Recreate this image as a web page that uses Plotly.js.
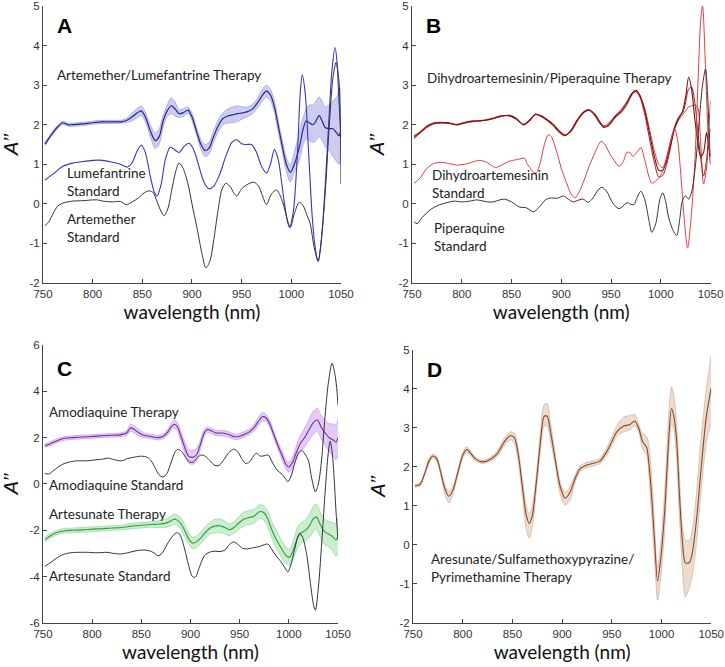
<!DOCTYPE html>
<html>
<head>
<meta charset="utf-8">
<script src="https://cdn.plot.ly/plotly-3.0.1.min.js"></script>
<style>html,body{margin:0;padding:0;background:#fff;}#chart{width:725px;height:667px;}</style>
</head>
<body>
<div id="chart"></div>
<script>
// ---------------- Panel A ----------------
const wlA = [752,760,765,770,775,780,790,800,810,820,830,835,840,845,849,853,858,863,867,871,875,879,883,887,891,896,900,905,909,913,917,921,926,931,936,941,946,951,956,961,966,971,975,979,983,987,991,995,999,1003,1008,1012,1015,1018,1022,1025,1028,1031,1034,1038,1042,1046,1048,1050];
const alTherapyMean = [1.51,1.80,1.95,2.05,2.00,2.00,2.02,2.05,2.07,2.07,2.08,2.12,2.20,2.30,2.35,2.20,1.85,1.60,1.70,2.10,2.35,2.48,2.40,2.28,2.30,2.37,2.20,1.80,1.50,1.35,1.40,1.65,1.95,2.15,2.22,2.25,2.28,2.30,2.33,2.40,2.55,2.75,2.85,2.75,2.45,1.95,1.45,1.00,0.80,1.00,1.42,1.90,2.10,2.05,2.00,2.10,2.23,2.10,1.93,1.90,1.90,1.78,1.72,1.90];
const alTherapyHi = [1.55,1.84,1.99,2.09,2.04,2.04,2.06,2.09,2.11,2.11,2.12,2.18,2.30,2.42,2.47,2.32,2.00,1.80,1.90,2.25,2.50,2.68,2.58,2.38,2.40,2.45,2.30,1.90,1.62,1.50,1.55,1.80,2.10,2.30,2.40,2.45,2.48,2.45,2.45,2.52,2.67,2.90,3.00,2.90,2.60,2.10,1.60,1.18,0.98,1.30,1.80,2.20,2.40,2.50,2.50,2.60,2.70,2.60,2.45,2.50,2.60,2.70,2.90,2.90];
const alTherapyLo = [1.47,1.76,1.91,2.01,1.96,1.96,1.98,2.01,2.03,2.03,2.04,2.06,2.10,2.18,2.23,2.08,1.70,1.40,1.50,1.95,2.20,2.28,2.22,2.18,2.20,2.29,2.10,1.70,1.38,1.20,1.25,1.50,1.80,2.00,2.04,2.05,2.08,2.15,2.21,2.28,2.43,2.60,2.70,2.60,2.30,1.80,1.30,0.82,0.55,0.80,1.10,1.50,1.65,1.60,1.55,1.60,1.70,1.60,1.45,1.35,1.20,1.05,1.00,1.50];

const wlLumStd = [752,760,770,780,790,800,810,820,828,835,840,845,849,853,858,862,865,869,873,878,882,887,892,897,902,907,912,917,922,928,934,940,945,950,955,960,965,970,975,979,983,987,991,995,998,1002,1006,1009,1011,1014,1017,1021,1024,1027,1030,1034,1038,1041,1044,1046,1048,1050];
const lumStd = [0.60,0.75,0.95,1.03,1.07,1.10,1.10,1.05,1.00,0.93,1.05,1.35,1.48,1.30,0.70,0.30,0.20,0.50,1.10,1.43,1.38,1.30,1.45,1.53,1.35,0.95,0.55,0.38,0.45,0.75,1.20,1.55,1.62,1.52,1.50,1.50,1.30,0.95,0.78,1.00,1.37,1.10,0.40,-0.30,-0.59,-0.20,1.20,2.80,3.26,2.80,1.50,-0.30,-1.10,-1.45,-1.00,0.40,2.20,3.40,3.95,3.60,2.60,1.70];

const wlArtStd = [752,756,760,765,770,780,790,800,805,810,820,828,834,840,846,852,857,861,865,869,872,876,880,884,887,891,896,900,905,910,914,918,922,926,930,934,938,942,945,950,955,962,967,971,975,980,985,989,993,996,999,1003,1008,1012,1015,1019,1023,1027,1031,1035,1038,1042,1045,1048,1049.5,1050];
const artStd = [-0.55,-0.45,-0.25,-0.05,0.02,0.07,0.08,0.10,0.10,0.07,0.05,0.06,-0.02,0.05,0.15,0.28,0.33,0.28,0.05,-0.20,-0.30,-0.10,0.40,0.85,1.03,0.90,0.50,0.00,-0.60,-1.25,-1.62,-1.45,-0.90,-0.20,0.35,0.52,0.45,0.28,0.20,0.38,0.48,0.55,0.45,0.20,-0.02,0.25,0.35,0.20,-0.10,-0.40,-0.60,-0.25,0.04,-0.05,-0.24,-0.50,-1.10,-1.45,-0.70,0.60,1.90,3.20,3.57,3.10,1.80,0.50];

// ---------------- Panel B ----------------
const wlB = [752,758,765,772,780,787,795,803,810,818,825,833,840,848,855,862,868,874,880,886,892,898,904,910,916,922,928,934,939,943,948,954,960,966,971,975,979,984,989,994,998,1002,1006,1010,1014,1018,1022,1025,1028,1031,1034,1037,1040,1043,1046,1048,1050];
const dpTherapy1 = [1.68,1.80,1.95,2.03,2.05,2.05,2.00,2.05,2.08,2.10,2.12,2.17,2.22,2.23,2.15,2.00,2.10,2.27,2.22,2.12,2.00,1.83,1.73,1.85,2.10,2.30,2.38,2.25,2.05,1.93,2.00,2.20,2.33,2.55,2.78,2.87,2.75,2.35,1.75,1.15,0.85,0.85,1.10,1.50,1.90,2.15,2.35,2.70,3.20,2.90,2.20,1.60,1.20,1.30,1.80,1.50,1.00];
const dpTherapy2 = [1.72,1.82,1.97,2.05,2.06,2.03,2.01,2.06,2.10,2.09,2.13,2.18,2.23,2.22,2.13,2.01,2.12,2.26,2.20,2.10,1.97,1.80,1.72,1.88,2.13,2.32,2.36,2.22,2.02,1.97,2.05,2.22,2.38,2.58,2.80,2.85,2.70,2.25,1.60,1.00,0.68,0.72,1.00,1.45,1.95,2.20,2.30,2.55,2.90,2.95,2.60,1.90,1.20,0.70,1.10,1.60,1.90];
const dpTherapy3 = [1.65,1.78,1.93,2.02,2.04,2.04,1.99,2.04,2.07,2.11,2.11,2.16,2.21,2.24,2.16,1.99,2.09,2.25,2.23,2.13,2.02,1.85,1.75,1.83,2.08,2.28,2.37,2.27,2.08,1.95,1.98,2.17,2.30,2.50,2.75,2.83,2.72,2.40,1.85,1.30,1.00,0.92,1.15,1.60,1.95,2.12,2.25,2.35,2.45,2.48,2.50,2.45,1.60,0.50,0.90,1.80,2.60];

const wlDhaStd = [752,758,765,772,780,787,795,803,810,818,825,830,834,840,848,856,863,866,869,872,875,879,883,887,890,895,900,905,910,914,918,923,928,934,940,944,948,953,958,962,966,969,972,976,980,984,988,991,996,1001,1006,1010,1014,1017,1020,1024,1027,1030,1034,1038,1040,1042,1045,1048,1050];
const dhaStd = [0.52,0.65,0.90,1.02,1.05,1.02,0.98,1.00,1.05,1.10,1.05,0.97,0.92,0.98,1.08,1.12,1.15,1.00,0.90,0.80,0.78,1.05,1.50,1.75,1.70,1.35,0.90,0.55,0.25,0.15,0.30,0.60,0.95,1.30,1.58,1.50,1.30,1.10,0.95,1.05,1.30,1.30,1.20,1.30,1.42,1.10,0.70,0.52,0.60,0.77,1.20,1.60,1.90,1.60,0.80,-0.50,-1.12,-0.50,0.92,3.44,4.60,5.00,3.44,1.60,1.20];

const wlPipStd = [752,755,760,765,770,778,785,792,800,808,815,820,826,832,838,843,850,858,865,872,878,884,890,896,902,907,912,918,922,927,932,937,941,946,950,954,958,962,966,969,973,976,980,984,988,991,995,999,1002,1005,1008,1012,1016,1019,1022,1025,1028,1031,1035,1039,1042,1045,1047,1049,1050];
const pipStd = [-0.45,-0.50,-0.35,-0.22,-0.12,-0.02,0.03,0.07,0.05,0.07,0.10,0.08,0.05,0.05,0.10,0.12,0.05,-0.08,-0.10,-0.20,-0.08,0.10,0.15,0.14,0.20,0.12,0.05,0.10,0.12,0.04,0.15,0.35,0.42,0.30,0.10,-0.05,-0.12,-0.06,0.03,0.00,-0.02,0.15,0.32,0.10,-0.40,-0.72,-0.50,0.10,0.28,0.05,-0.35,-0.65,-0.80,-0.40,0.10,0.20,0.12,0.30,1.00,2.20,3.00,3.41,2.80,1.60,1.20];

// ---------------- Panel C ----------------
const wlC1 = [752,758,765,772,780,790,800,810,820,828,835,839,842,846,850,855,860,866,872,877,881,884,887,890,894,898,902,906,910,914,917,921,926,932,938,944,949,955,960,965,969,973,977,981,985,989,993,997,1000,1004,1008,1012,1016,1020,1025,1029,1033,1037,1041,1045,1048,1050];
const amoTherapyMean = [1.65,1.75,1.88,1.97,2.00,2.03,2.05,2.08,2.10,2.12,2.20,2.42,2.38,2.25,2.15,2.08,2.05,2.00,2.05,2.25,2.50,2.58,2.45,2.10,1.60,1.20,1.15,1.25,1.70,2.20,2.35,2.30,2.20,2.20,2.15,2.05,2.05,2.15,2.25,2.45,2.70,2.90,2.85,2.55,2.10,1.65,1.25,0.85,0.73,0.95,1.40,1.77,2.00,2.30,2.65,2.76,2.45,2.20,2.00,1.90,1.80,2.00];
const amoTherapyHi = [1.73,1.83,1.96,2.05,2.08,2.11,2.13,2.16,2.18,2.20,2.30,2.57,2.53,2.40,2.27,2.18,2.15,2.10,2.15,2.37,2.65,2.76,2.63,2.30,1.85,1.50,1.45,1.53,1.90,2.35,2.47,2.42,2.32,2.32,2.27,2.17,2.17,2.27,2.37,2.60,2.88,3.08,3.00,2.70,2.25,1.80,1.43,1.05,0.95,1.20,1.70,2.12,2.40,2.75,3.15,3.26,2.95,2.75,2.60,2.60,2.55,2.80];
const amoTherapyLo = [1.57,1.67,1.80,1.89,1.92,1.95,1.97,2.00,2.02,2.04,2.10,2.27,2.23,2.10,2.03,1.98,1.95,1.90,1.95,2.13,2.35,2.40,2.27,1.90,1.35,0.90,0.85,0.97,1.50,2.05,2.23,2.18,2.08,2.08,2.03,1.93,1.93,2.03,2.13,2.30,2.52,2.72,2.70,2.40,1.95,1.50,1.07,0.65,0.51,0.70,1.10,1.42,1.60,1.85,2.15,2.26,1.95,1.65,1.40,1.20,1.05,1.20];

const wlAmoStd = [752,756,760,765,770,777,785,795,805,812,816,822,830,836,842,850,856,860,864,868,872,876,880,884,887,891,895,899,903,907,911,915,920,925,929,934,939,944,948,952,956,960,964,967,971,975,979,983,988,993,997,999,1002,1006,1010,1013,1017,1020,1023,1027,1030,1033,1036,1040,1044,1047,1049,1050];
const amoStd = [0.45,0.43,0.55,0.72,0.85,0.95,1.00,1.00,1.05,1.08,1.12,1.05,1.00,1.10,1.15,1.20,1.15,1.00,0.70,0.40,0.30,0.45,0.90,1.35,1.50,1.40,1.15,0.95,0.95,1.15,1.25,1.20,1.00,0.80,0.80,1.05,1.35,1.50,1.40,1.10,0.88,0.95,1.20,1.33,1.20,1.22,1.25,0.95,0.60,0.42,0.20,0.10,0.30,0.90,1.35,1.45,1.25,1.00,0.30,-0.34,0.00,0.90,2.50,4.30,5.22,4.70,4.00,3.40];

const wlC2 = [752,758,765,772,780,790,800,810,820,830,840,850,860,868,874,879,883,886,890,894,898,902,906,910,915,920,925,930,935,940,945,950,955,960,965,970,974,978,982,986,990,994,998,1001,1005,1009,1013,1017,1021,1025,1028,1032,1036,1040,1044,1048,1050];
const artsTherapyMean = [-2.40,-2.22,-2.08,-2.02,-2.00,-1.98,-1.95,-1.93,-1.90,-1.88,-1.82,-1.78,-1.75,-1.73,-1.70,-1.62,-1.52,-1.55,-1.70,-2.00,-2.35,-2.55,-2.50,-2.35,-2.10,-1.90,-1.82,-1.80,-1.88,-1.98,-1.85,-1.65,-1.50,-1.45,-1.38,-1.20,-1.22,-1.45,-1.90,-2.30,-2.60,-2.90,-3.12,-3.15,-2.80,-2.30,-2.10,-2.00,-1.80,-1.50,-1.42,-1.75,-2.05,-2.15,-2.25,-2.42,-2.20];
const artsTherapyHi = [-2.30,-2.12,-1.98,-1.92,-1.90,-1.88,-1.85,-1.83,-1.80,-1.78,-1.70,-1.66,-1.63,-1.58,-1.52,-1.42,-1.30,-1.33,-1.45,-1.75,-2.10,-2.30,-2.25,-2.10,-1.85,-1.65,-1.52,-1.50,-1.60,-1.73,-1.60,-1.37,-1.20,-1.15,-1.08,-0.90,-0.92,-1.13,-1.55,-1.92,-2.22,-2.52,-2.77,-2.80,-2.40,-1.85,-1.65,-1.55,-1.30,-0.95,-0.87,-1.20,-1.50,-1.60,-1.65,-1.72,-1.45];
const artsTherapyLo = [-2.50,-2.32,-2.18,-2.12,-2.10,-2.08,-2.05,-2.03,-2.00,-1.98,-1.94,-1.90,-1.87,-1.88,-1.88,-1.82,-1.74,-1.77,-1.95,-2.25,-2.60,-2.80,-2.75,-2.60,-2.35,-2.15,-2.12,-2.10,-2.16,-2.23,-2.10,-1.93,-1.80,-1.75,-1.68,-1.50,-1.52,-1.77,-2.25,-2.68,-2.98,-3.28,-3.47,-3.50,-3.20,-2.75,-2.55,-2.45,-2.30,-2.05,-1.97,-2.30,-2.60,-2.70,-2.85,-3.12,-2.95];

const wlArtsStd = [752,758,764,770,778,786,795,805,815,822,830,838,845,852,858,863,867,871,875,880,884,887,890,894,898,902,905,909,914,919,924,930,935,940,944,948,953,958,964,970,975,979,983,987,991,995,999,1002,1006,1009,1011,1014,1018,1022,1025,1027,1030,1034,1037,1040,1042,1044,1046,1048,1050];
const artsStd = [-3.55,-3.38,-3.20,-3.05,-2.97,-2.95,-2.95,-2.97,-2.95,-3.00,-3.02,-2.95,-2.88,-2.85,-2.88,-2.98,-3.10,-3.00,-2.70,-2.35,-2.15,-2.10,-2.25,-2.80,-3.50,-4.00,-4.02,-3.60,-3.10,-2.95,-2.90,-2.92,-2.85,-2.60,-2.50,-2.60,-2.78,-2.80,-2.75,-2.70,-2.62,-2.60,-2.85,-3.10,-3.30,-3.55,-3.80,-3.50,-2.80,-2.30,-2.12,-2.30,-3.00,-4.30,-5.20,-5.45,-4.50,-2.20,-0.30,1.30,1.85,1.40,0.30,-1.20,-2.40];

// ---------------- Panel D ----------------
const wlD = [752,757,762,766,770,774,778,782,786,790,795,800,804,808,813,820,828,835,842,848,852,856,860,864,867,870,874,878,882,885,888,893,898,903,908,913,918,925,932,938,945,950,955,962,968,973,977,981,985,988,991,993,996,999,1003,1007,1010,1012,1015,1018,1021,1024,1028,1031,1035,1040,1045,1050];
const aspTherapyMean = [1.52,1.55,1.85,2.15,2.28,2.20,1.85,1.45,1.25,1.40,1.85,2.30,2.45,2.35,2.20,2.13,2.20,2.35,2.65,2.80,2.75,2.30,1.50,0.75,0.55,0.75,1.60,2.60,3.30,3.30,2.95,2.20,1.50,1.20,1.35,1.70,1.95,2.05,2.10,2.15,2.40,2.65,2.90,3.05,3.08,3.18,3.00,2.65,2.50,1.90,0.90,0.10,-0.92,-0.40,0.80,2.60,3.50,3.35,2.75,1.30,0.10,-0.46,-0.45,-0.20,0.60,2.00,3.28,4.03];
const aspTherapyHi = [1.56,1.59,1.90,2.22,2.33,2.26,1.93,1.55,1.38,1.50,1.92,2.38,2.52,2.41,2.25,2.17,2.25,2.42,2.75,2.90,2.87,2.45,1.70,1.00,0.80,1.00,1.80,2.85,3.60,3.62,3.20,2.35,1.62,1.35,1.50,1.80,2.03,2.12,2.17,2.22,2.50,2.78,3.05,3.28,3.32,3.35,3.10,2.85,2.78,2.40,1.40,0.50,-0.60,0.00,1.30,3.20,4.05,3.90,3.20,1.80,0.50,0.13,0.12,0.40,1.30,2.80,4.00,4.87];
const aspTherapyLo = [1.48,1.51,1.80,2.08,2.23,2.14,1.77,1.30,1.08,1.28,1.78,2.22,2.38,2.29,2.15,2.09,2.15,2.28,2.55,2.70,2.60,2.10,1.25,0.40,0.17,0.45,1.35,2.35,3.05,3.05,2.70,2.05,1.30,1.02,1.15,1.60,1.87,1.98,2.03,2.08,2.30,2.55,2.78,2.90,2.95,3.05,2.90,2.45,2.30,1.50,0.40,-0.40,-1.42,-0.90,0.30,2.10,3.10,3.00,2.30,0.70,-0.60,-1.33,-1.10,-0.80,0.00,1.40,2.60,3.15];

// Axis ticks
const xTicks = [750,800,850,900,950,1000,1050];
const yTicksABD = [-2,-1,0,1,2,3,4,5];
const yTicksC = [-6,-4,-2,0,2,4,6];

// ---------------- Build traces ----------------
function line(x, y, color, width, xa, ya) {
  return {x: x, y: y, type: 'scatter', mode: 'lines', xaxis: xa, yaxis: ya,
    line: {color: color, width: width, shape: 'spline', smoothing: 0.8}, hoverinfo: 'skip', showlegend: false};
}
function band(x, lo, hi, fill, edge, xa, ya) {
  return [
    {x: x, y: lo, type: 'scatter', mode: 'lines', xaxis: xa, yaxis: ya,
      line: {color: edge, width: 0.6, shape: 'spline', smoothing: 0.8}, hoverinfo: 'skip', showlegend: false},
    {x: x, y: hi, type: 'scatter', mode: 'lines', xaxis: xa, yaxis: ya, fill: 'tonexty', fillcolor: fill,
      line: {color: edge, width: 0.6, shape: 'spline', smoothing: 0.8}, hoverinfo: 'skip', showlegend: false}
  ];
}

const traces = [];
// A
traces.push(...band(wlA, alTherapyLo, alTherapyHi, 'rgba(120,120,215,0.38)', 'rgba(110,110,210,0.7)', 'x', 'y'));
traces.push(line(wlA, alTherapyMean, '#25258f', 1.2, 'x', 'y'));
traces.push(line(wlLumStd, lumStd, '#3535cc', 1.1, 'x', 'y'));
traces.push(line(wlArtStd, artStd, '#333333', 1.0, 'x', 'y'));
// B
traces.push(line(wlB, dpTherapy3, '#c64646', 1.0, 'x2', 'y2'));
traces.push(line(wlB, dpTherapy2, '#a81c1c', 1.0, 'x2', 'y2'));
traces.push(line(wlB, dpTherapy1, '#7e0c0c', 1.1, 'x2', 'y2'));
traces.push(line(wlDhaStd, dhaStd, '#e63c3c', 1.0, 'x2', 'y2'));
traces.push(line(wlPipStd, pipStd, '#333333', 1.0, 'x2', 'y2'));
// C
traces.push(...band(wlC1, amoTherapyLo, amoTherapyHi, 'rgba(190,130,235,0.42)', 'rgba(180,120,230,0.8)', 'x3', 'y3'));
traces.push(line(wlC1, amoTherapyMean, '#6d2c9c', 1.1, 'x3', 'y3'));
traces.push(...band(wlC2, artsTherapyLo, artsTherapyHi, 'rgba(130,215,140,0.42)', 'rgba(110,200,120,0.8)', 'x3', 'y3'));
traces.push(line(wlC2, artsTherapyMean, '#2f9e3c', 1.1, 'x3', 'y3'));
traces.push(line(wlAmoStd, amoStd, '#333333', 1.0, 'x3', 'y3'));
traces.push(line(wlArtsStd, artsStd, '#333333', 1.0, 'x3', 'y3'));
// D
traces.push(...band(wlD, aspTherapyLo, aspTherapyHi, 'rgba(215,185,160,0.5)', 'rgba(190,150,120,0.75)', 'x4', 'y4'));
traces.push(line(wlD, aspTherapyMean, '#8c4525', 1.1, 'x4', 'y4'));

// ---------------- Layout ----------------
const tickFont = {family: 'Liberation Sans, Arial, sans-serif', size: 11.5, color: '#333'};
function xAxis(domain, anchor) {
  return {domain: domain, anchor: anchor, range: [750, 1050], tickvals: xTicks, ticktext: xTicks.map(String),
    ticks: 'inside', ticklen: 4, tickcolor: '#444', showline: true, linecolor: '#444', linewidth: 1,
    showgrid: false, zeroline: false, tickfont: tickFont, fixedrange: true, ticklabeloverflow: 'allow',
    title: {text: 'wavelength (nm)', font: {family: 'Lato, sans-serif', size: 19, color: '#111'}, standoff: 6}};
}
function yAxis(domain, anchor, range, ticks) {
  return {domain: domain, anchor: anchor, range: range, tickvals: ticks, ticktext: ticks.map(String),
    ticks: 'inside', ticklen: 4, tickcolor: '#444', showline: true, linecolor: '#444', linewidth: 1,
    showgrid: false, zeroline: false, tickfont: tickFont, fixedrange: true, ticklabeloverflow: 'allow',
    title: {text: '<i>A’’</i>', font: {family: 'Liberation Sans, Arial, sans-serif', size: 20, color: '#111'}, standoff: 8}};
}

const txt = {family: 'Lato, sans-serif', size: 13.5, color: '#222'};
const letter = {family: 'Liberation Sans, Arial, sans-serif', size: 21, color: '#000', weight: 'bold'};
function ann(xref, yref, x, y, text, font) {
  return {xref: xref, yref: yref, x: x, y: y, text: text, showarrow: false, xanchor: 'left', yanchor: 'middle', align: 'left', font: font};
}

const layout = {
  width: 725, height: 667, margin: {l: 0, r: 0, t: 0, b: 0},
  paper_bgcolor: '#fff', plot_bgcolor: '#fff', showlegend: false,
  xaxis: xAxis([0.0593, 0.4703], 'y'),
  yaxis: yAxis([0.5757, 0.9910], 'x', [-2, 5], yTicksABD),
  xaxis2: xAxis([0.5683, 0.9800], 'y2'),
  yaxis2: yAxis([0.5757, 0.9910], 'x2', [-2, 5], yTicksABD),
  xaxis3: xAxis([0.0593, 0.4662], 'y3'),
  yaxis3: yAxis([0.0660, 0.4828], 'x3', [-6, 6], yTicksC),
  xaxis4: xAxis([0.5697, 0.9810], 'y4'),
  yaxis4: yAxis([0.0660, 0.4753], 'x4', [-2, 5], yTicksABD),
  annotations: [
    ann('x', 'y', 762, 4.5, '<b>A</b>', letter),
    ann('x', 'y', 762, 3.26, 'Artemether/Lumefantrine Therapy', txt),
    ann('x', 'y', 772, 0.55, 'Lumefantrine<br>Standard', txt),
    ann('x', 'y', 772, -0.6, 'Artemether<br>Standard', txt),
    ann('x2', 'y2', 762, 4.5, '<b>B</b>', letter),
    ann('x2', 'y2', 763, 3.19, 'Dihydroartemesinin/Piperaquine Therapy', txt),
    ann('x2', 'y2', 768, 0.5, 'Dihydroartemesinin<br>Standard', txt),
    ann('x2', 'y2', 770, -0.83, 'Piperaquine<br>Standard', txt),
    ann('x3', 'y3', 762, 5.0, '<b>C</b>', letter),
    ann('x3', 'y3', 754, 3.11, 'Amodiaquine Therapy', txt),
    ann('x3', 'y3', 754, -0.04, 'Amodiaquine Standard', txt),
    ann('x3', 'y3', 754, -1.3, 'Artesunate Therapy', txt),
    ann('x3', 'y3', 754, -3.97, 'Artesunate Standard', txt),
    ann('x4', 'y4', 762, 4.49, '<b>D</b>', letter),
    ann('x4', 'y4', 766, -0.59, 'Aresunate/Sulfamethoxypyrazine/<br>Pyrimethamine Therapy', txt)
  ]
};

Plotly.newPlot('chart', traces, layout, {displayModeBar: false, staticPlot: true});
</script>
</body>
</html>
